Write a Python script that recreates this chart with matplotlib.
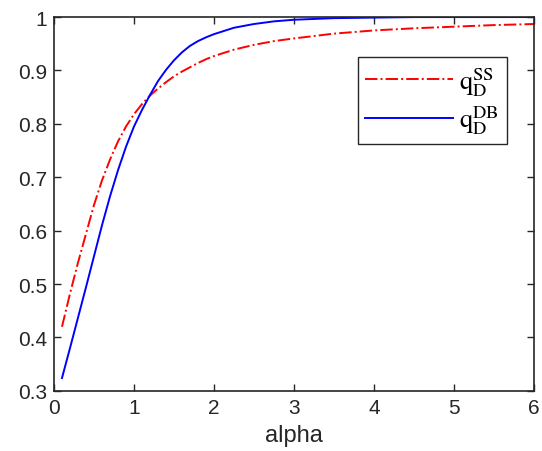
import matplotlib
matplotlib.use("Agg")
import matplotlib.pyplot as plt
from matplotlib.ticker import FuncFormatter

plt.rcParams['font.family'] = ['Liberation Sans', 'DejaVu Sans']
plt.rcParams['mathtext.fontset'] = 'stix'

# alpha grid and the two detection probabilities
alpha = [0.1, 0.2, 0.3, 0.4, 0.5, 0.6, 0.7, 0.8, 0.9, 1.0,
         1.1, 1.2, 1.3, 1.4, 1.5, 1.6, 1.7, 1.8, 1.9, 2.0,
         2.25, 2.5, 2.75, 3.0, 3.5, 4.0, 4.5, 5.0, 5.5, 6.0]
q_ss = [0.420, 0.482, 0.540, 0.594, 0.648, 0.694, 0.733, 0.767, 0.795, 0.818,
        0.837, 0.853, 0.866, 0.878, 0.889, 0.898, 0.906, 0.914, 0.921, 0.927,
        0.939, 0.948, 0.955, 0.960, 0.969, 0.975, 0.979, 0.982, 0.985, 0.987]
q_db = [0.324, 0.380, 0.437, 0.494, 0.552, 0.610, 0.664, 0.713, 0.757, 0.795,
        0.826, 0.854, 0.880, 0.901, 0.919, 0.934, 0.946, 0.955, 0.962, 0.968,
        0.980, 0.987, 0.992, 0.995, 0.998, 0.999, 1.000, 1.000, 1.000, 1.000]

grey = '#262626'

fig = plt.figure(figsize=(5.42, 4.52), dpi=100)
ax = fig.add_axes([0.0996, 0.133, 0.8854, 0.827])

ax.plot(alpha, q_ss, color='#ff0000', linestyle='-.', linewidth=1.4,
        label=r'$\mathrm{q}_{\mathrm{D}}^{\mathrm{SS}}$')
ax.plot(alpha, q_db, color='#0000ff', linestyle='-', linewidth=1.4,
        label=r'$\mathrm{q}_{\mathrm{D}}^{\mathrm{DB}}$')

ax.set_xlim(0, 6)
ax.set_ylim(0.3, 1)
ax.set_xticks(range(0, 7))
ax.set_yticks([0.3, 0.4, 0.5, 0.6, 0.7, 0.8, 0.9, 1.0])
ax.yaxis.set_major_formatter(FuncFormatter(lambda v, p: '1' if abs(v - 1) < 1e-9 else '%.1f' % v))
ax.tick_params(direction='in', top=True, right=True, length=5, width=1,
               labelsize=15, colors=grey, pad=5)
for s in ax.spines.values():
    s.set_color(grey)
    s.set_linewidth(1.2)

ax.set_xlabel('alpha', fontsize=17, color=grey, labelpad=5)

leg = ax.legend(loc='upper right', bbox_to_anchor=(0.944, 0.893),
                fontsize=19, handlelength=3.3, fancybox=False, framealpha=1,
                edgecolor=grey, borderpad=0.3, labelspacing=0.2, handletextpad=0.25,
                borderaxespad=0)
leg.get_frame().set_linewidth(1.0)

fig.savefig('out.png', dpi=100)
